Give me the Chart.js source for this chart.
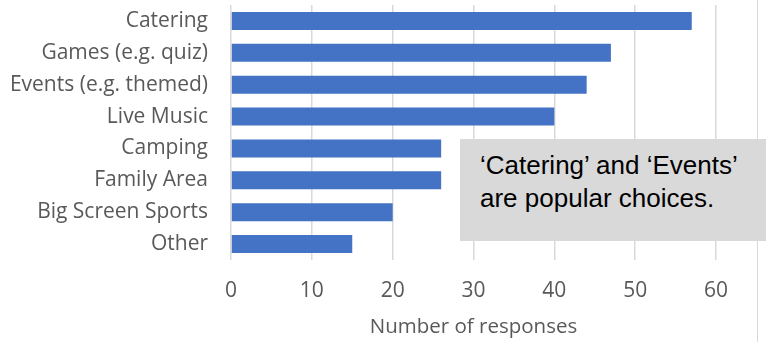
<!DOCTYPE html>
<html>
<head>
<meta charset="utf-8">
<script src="https://cdn.jsdelivr.net/npm/chart.js@4.4.1/dist/chart.umd.min.js"></script>
<style>
  html, body { margin: 0; padding: 0; background: #ffffff; }
  #wrap { position: relative; width: 766px; height: 342px; overflow: hidden; }
  #c { position: absolute; left: 0; top: 0; }
  #edge { position: absolute; left: 757px; top: 0; width: 1px; height: 342px; background: #d9d9d9; }
  #note { position: absolute; left: 460px; top: 139px; width: 306px; height: 102px; box-sizing: border-box;
          background: #d9d9d9; padding: 9.6px 0 0 20px; font-family: "Liberation Sans", Arial, sans-serif;
          font-size: 26px; line-height: 33.4px; color: #000000; white-space: nowrap; }
</style>
</head>
<body>
<div id="wrap">
  <canvas id="c" width="766" height="342"></canvas>
  <div id="edge"></div>
  <div id="note">‘Catering’ and ‘Events’<br>are popular choices.</div>
</div>
<script>
const categories = ["Catering", "Games (e.g. quiz)", "Events (e.g. themed)", "Live Music", "Camping", "Family Area", "Big Screen Sports", "Other"];
const responses = [57, 47, 44, 40, 26, 26, 20, 15];
const xTickValues = [0, 10, 20, 30, 40, 50, 60];
const xAxisTitle = "Number of responses";

const labelColor = "#595959";
const gridColor = "#d9d9d9";
const fontFamily = "'Open Sans', 'Noto Sans', sans-serif";

new Chart(document.getElementById("c"), {
  type: "bar",
  data: {
    labels: categories,
    datasets: [{
      data: responses,
      backgroundColor: "#4472C4",
      borderWidth: 0,
      categoryPercentage: 1.0,
      barPercentage: 0.565
    }]
  },
  options: {
    indexAxis: "y",
    responsive: false,
    animation: false,
    devicePixelRatio: 1,
    layout: { padding: { left: 0, right: 50, top: 5, bottom: 0 } },
    plugins: { legend: { display: false }, tooltip: { enabled: false } },
    scales: {
      x: {
        min: 0,
        max: 60,
        afterBuildTicks: (scale) => { scale.ticks = xTickValues.map(v => ({ value: v })); },
        afterFit: (scale) => { scale.height = 82; scale.paddingLeft = 0; scale.paddingRight = 0; },
        grid: { color: gridColor, lineWidth: 1.5, drawTicks: false },
        border: { display: false },
        ticks: { color: labelColor, padding: 18.4, font: { family: fontFamily, size: 21 } },
        title: {
          display: true,
          text: xAxisTitle,
          color: labelColor,
          font: { family: fontFamily, size: 20.5, lineHeight: 1.2 },
          padding: { top: 0, bottom: 3 }
        }
      },
      y: {
        afterFit: (scale) => { scale.width = 231; scale.paddingTop = 0; scale.paddingBottom = 0; },
        grid: { display: false, drawTicks: false },
        border: { display: false },
        ticks: { color: labelColor, padding: 23, font: { family: fontFamily, size: 21 } }
      }
    }
  }
});
</script>
</body>
</html>
